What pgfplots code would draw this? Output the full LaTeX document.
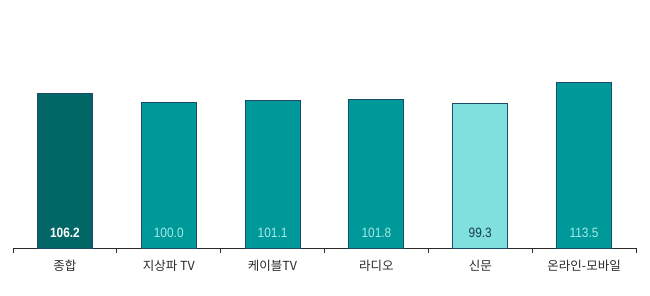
\documentclass[border=0pt]{standalone}
\usepackage{pgfplots}
\pgfplotsset{compat=1.18}
\usepackage{fontspec}
\setmainfont{Liberation Sans}
\newfontfamily\kr{Noto Sans CJK KR}
\definecolor{dteal}{HTML}{006666}
\definecolor{teal2}{HTML}{009999}
\definecolor{lteal}{HTML}{80E0DE}
\definecolor{bord}{HTML}{1F4A66}
\definecolor{axcol}{HTML}{2A2A2A}
\newcommand{\vl}[1]{\scalebox{0.88}[1]{#1}}
\begin{document}
\begin{tikzpicture}[x=1pt,y=1pt]
\useasboundingbox (0,0) rectangle (650,295);
\begin{axis}[
  at={(13pt,47pt)}, anchor=south west,
  scale only axis, width=623pt, height=247.4pt,
  xmin=-0.5, xmax=5.5, ymin=0, ymax=170,
  axis x line=bottom, axis y line=none,
  axis line style={axcol, line width=0.9pt, -},
  xtick={0,1,2,3,4,5},
  xticklabels={종합,지상파 TV,케이블TV,라디오,신문,온라인-모바일},
  xticklabel style={font=\kr\fontsize{12.5}{14}\selectfont, text=axcol, yshift=-9pt},
  major tick length=0pt,
  minor xtick={-0.5,0.5,1.5,2.5,3.5,4.5,5.5},
  minor tick length=4.5pt,
  tick align=outside,
  minor tick style={axcol, line width=0.9pt},
  ybar, bar width=55pt, bar shift=0pt,
  clip=false,
]
\addplot[fill=dteal, draw=bord, line width=1pt] coordinates {(0,106.2)};
\addplot[fill=teal2, draw=bord, line width=1pt] coordinates {(1,100.0) (2,101.1) (3,101.8) (5,113.5)};
\addplot[fill=lteal, draw=bord, line width=1pt] coordinates {(4,99.3)};
\node[text=white, font=\bfseries\fontsize{13.5}{15}\selectfont] at (axis cs:0,10.3) {\vl{106.2}};
\node[text=lteal!70!white, font=\fontsize{13.5}{15}\selectfont] at (axis cs:1,10.3) {\vl{100.0}};
\node[text=lteal!70!white, font=\fontsize{13.5}{15}\selectfont] at (axis cs:2,10.3) {\vl{101.1}};
\node[text=lteal!70!white, font=\fontsize{13.5}{15}\selectfont] at (axis cs:3,10.3) {\vl{101.8}};
\node[text=bord!80!black, font=\fontsize{13.5}{15}\selectfont] at (axis cs:4,10.3) {\vl{99.3}};
\node[text=lteal!70!white, font=\fontsize{13.5}{15}\selectfont] at (axis cs:5,10.3) {\vl{113.5}};
\end{axis}
\end{tikzpicture}
\end{document}
